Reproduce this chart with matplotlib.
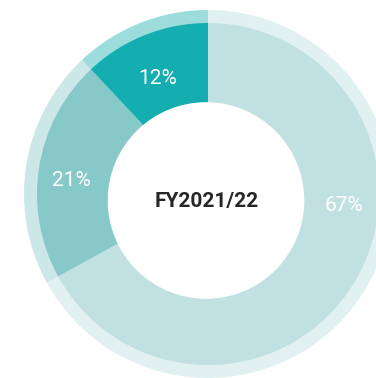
import matplotlib
matplotlib.use("Agg")
import matplotlib.pyplot as plt
from matplotlib.patches import Circle
import numpy as np

# share of each segment, clockwise from 12 o'clock
shares = [67, 21, 12]
labels = ["67%", "21%", "12%"]
title = "FY2021/22"

inner_colors = ["#c1e0e1", "#87c9c9", "#14aeb0"]
outer_colors = ["#e1f0f1", "#cce7e8", "#9ddcdc"]

cx, cy = 208, 184
fig = plt.figure(figsize=(3.76, 3.78), dpi=100)
ax = fig.add_axes([0, 0, 1, 1])

# pale outer halo, then the main wedges on top
ax.pie(shares, colors=outer_colors, radius=184, center=(cx, cy),
       startangle=90, counterclock=False, wedgeprops=dict(linewidth=0))
ax.pie(shares, colors=inner_colors, radius=171, center=(cx, cy),
       startangle=90, counterclock=False, wedgeprops=dict(linewidth=0))

# white hole
ax.add_patch(Circle((206, 177.5), 97.6, color="white", zorder=5))

# label placement (angle in degrees, distance from centre)
label_pos = [(-5.0, 136), (174.5, 137), (113.6, 126)]
for lab, (ang, r) in zip(labels, label_pos):
    a = np.deg2rad(ang)
    ax.text(cx + r * np.cos(a), cy + r * np.sin(a), lab,
            ha="center", va="center", color="white", fontsize=15,
            family="Roboto", fontweight="normal", zorder=6)

ax.text(207, 176, title, ha="center", va="center", color="#262626",
        fontsize=15, family="Roboto", fontweight="bold", zorder=6)

ax.set_xlim(0, 376)
ax.set_ylim(0, 378)
ax.set_aspect("equal")
ax.axis("off")
fig.savefig("out.png", dpi=100)
